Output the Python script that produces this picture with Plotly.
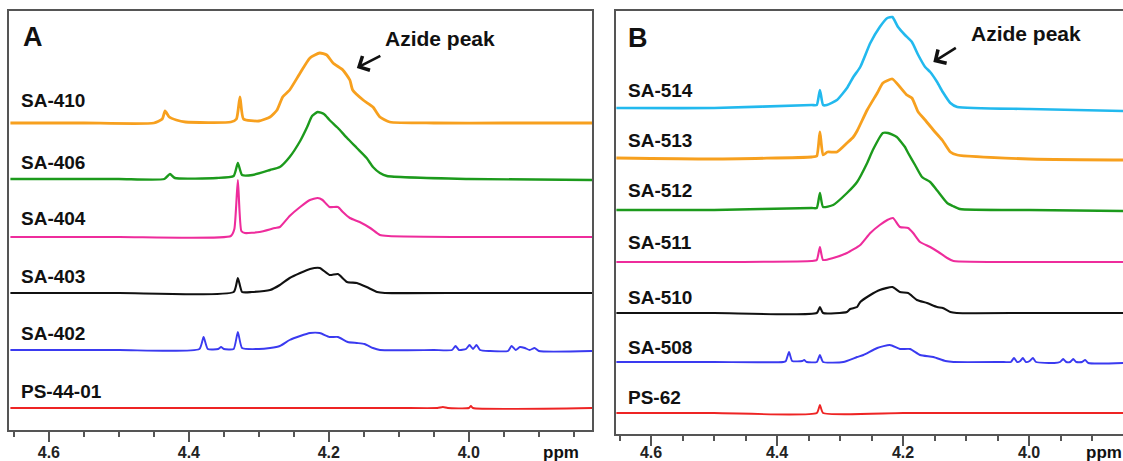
import plotly.graph_objects as go

# ---------------------------------------------------------------------------
# Spectra: chemical shift (ppm) and intensity above each trace's own baseline
# ---------------------------------------------------------------------------

# Panel A
SA410_PPM = [4.655, 4.55, 4.45, 4.438, 4.434, 4.428, 4.418, 4.405, 4.34, 4.332, 4.327, 4.322, 4.30, 4.284,
             4.274, 4.266, 4.256, 4.241, 4.227, 4.213, 4.203, 4.194, 4.180, 4.170, 4.166, 4.151, 4.137,
             4.127, 4.113, 4.05, 3.95, 3.824]
SA410_INT = [0, 0, 0, 4, 12, 6, 3, 1, 1, 4, 26, 4, 2, 6,
             13, 26, 33, 50, 65, 70, 68, 60, 53, 43, 33, 23, 16,
             6, 1, 0, 0, 0]

SA406_PPM = [4.655, 4.5, 4.435, 4.427, 4.42, 4.36, 4.336, 4.33, 4.324, 4.309, 4.284, 4.27, 4.256, 4.241,
             4.231, 4.224, 4.216, 4.207, 4.199, 4.187, 4.174, 4.160, 4.146, 4.137, 4.127, 4.117, 4.0, 3.824]
SA406_INT = [0, 0, 0, 5, 1, 1, 3, 16, 4, 4, 9, 12, 22, 38,
             52, 63, 67, 65, 59, 51, 41, 31, 21, 12, 6, 3, 0, -1]

SA404_PPM = [4.655, 4.5, 4.34, 4.335, 4.33, 4.325, 4.32, 4.299, 4.277, 4.27, 4.256, 4.241, 4.227, 4.216,
             4.209, 4.199, 4.187, 4.18, 4.17, 4.156, 4.141, 4.127, 4.115, 4.0, 3.824]
SA404_INT = [0, 0, 1, 8, 57, 6, 4, 5, 9, 10, 21, 30, 37, 39,
             37, 30, 30, 25, 19, 15, 9, 2, 1, 0, 0]

SA403_PPM = [4.655, 4.5, 4.336, 4.33, 4.324, 4.31, 4.284, 4.27, 4.256, 4.241, 4.227, 4.213, 4.199, 4.187,
             4.174, 4.160, 4.146, 4.131, 4.12, 4.0, 3.824]
SA403_INT = [0, 0, 1, 15, 1, 1, 3, 8, 15, 20, 24, 25, 18, 19,
             11, 10, 6, 1, 0, 0, 0]

SA402_PPM = [4.655, 4.5, 4.385, 4.379, 4.373, 4.358, 4.354, 4.35, 4.336, 4.33, 4.324, 4.30, 4.284, 4.27,
             4.256, 4.241, 4.227, 4.213, 4.199, 4.187, 4.173, 4.160, 4.149, 4.137, 4.127, 4.05, 4.024,
             4.019, 4.014, 4.004, 3.999, 3.994, 3.989, 3.984, 3.97, 3.944, 3.939, 3.933, 3.927, 3.92,
             3.913, 3.906, 3.90, 3.824]
SA402_INT = [0, 0, 1, 13, 1, 1, 3, 1, 1, 18, 2, 1, 2, 4,
             10, 14, 17, 17, 13, 13, 8, 7, 6, 2, 0, 0, 0,
             4, 0, 1, 5, 1, 5, 0, -1, -1, 4, 0, 3, 2,
             0, 2, -1, -1]

PS4401_PPM = [4.655, 4.3, 4.10, 4.045, 4.037, 4.03, 4.0, 3.997, 3.994, 3.824]
PS4401_INT = [0, 0, 0, 0, 1, 0, 0, 2, 0, 0]

# Panel B
SA514_PPM = [4.655, 4.5, 4.345, 4.337, 4.332, 4.327, 4.321, 4.305, 4.289, 4.279, 4.268, 4.252, 4.237,
             4.225, 4.217, 4.208, 4.197, 4.186, 4.176, 4.165, 4.157, 4.146, 4.137, 4.125, 4.114, 4.0, 3.851]
SA514_INT = [0, 0, 3, 3, 18, 3, 3, 8, 20, 31, 41, 65, 81,
             90, 91, 81, 73, 66, 53, 41, 36, 26, 16, 5, 1, -1, -3]

SA513_PPM = [4.655, 4.5, 4.345, 4.337, 4.332, 4.327, 4.32, 4.305, 4.289, 4.279, 4.273, 4.257, 4.241,
             4.232, 4.217, 4.205, 4.194, 4.186, 4.176, 4.165, 4.152, 4.138, 4.125, 4.114, 4.0, 3.851]
SA513_INT = [1, 0, 2, 3, 27, 4, 7, 7, 16, 22, 28, 49, 66,
             76, 80, 72, 64, 61, 47, 39, 29, 19, 7, 4, 0, -1]

SA512_PPM = [4.655, 4.5, 4.345, 4.337, 4.332, 4.327, 4.311, 4.289, 4.273, 4.257, 4.248, 4.232, 4.224,
             4.210, 4.197, 4.192, 4.181, 4.170, 4.157, 4.144, 4.130, 4.121, 4.11, 4.0, 3.851]
SA512_INT = [0, 0, 2, 2, 17, 3, 5, 17, 28, 47, 60, 77, 77,
             73, 63, 57, 45, 33, 28, 18, 7, 4, 1, 0, -1]

SA511_PPM = [4.655, 4.5, 4.345, 4.337, 4.332, 4.327, 4.311, 4.289, 4.268, 4.252, 4.237, 4.225, 4.216,
             4.205, 4.192, 4.184, 4.173, 4.157, 4.144, 4.130, 4.12, 4.0, 3.851]
SA511_INT = [0, 0, 1, 2, 15, 2, 4, 9, 17, 29, 37, 42, 44,
             35, 34, 29, 20, 15, 10, 4, 1, 0, 0]

SA510_PPM = [4.655, 4.5, 4.337, 4.332, 4.327, 4.289, 4.284, 4.273, 4.268, 4.252, 4.237, 4.217, 4.205,
             4.192, 4.178, 4.162, 4.146, 4.137, 4.125, 4.115, 4.0, 3.851]
SA510_INT = [0, 0, 0, 6, 0, 1, 4, 6, 11, 18, 23, 26, 21,
             20, 13, 10, 6, 5, 1, 0, 0, 0]

SA508_PPM = [4.655, 4.5, 4.39, 4.386, 4.381, 4.376, 4.36, 4.357, 4.353, 4.337, 4.332, 4.327, 4.295,
             4.273, 4.263, 4.241, 4.221, 4.205, 4.189, 4.173, 4.152, 4.133, 4.12, 4.04, 4.029, 4.024,
             4.019, 4.014, 4.010, 4.005, 3.999, 3.994, 3.989, 3.96, 3.951, 3.946, 3.941, 3.935, 3.930,
             3.925, 3.916, 3.911, 3.906, 3.851]
SA508_INT = [0, 0, 0, 1, 10, 1, 1, 2, 0, 0, 7, 0, 0,
             5, 7, 14, 17, 13, 13, 7, 5, 1, 0, 0, 0, 4,
             0, 1, 4, 0, 1, 4, 0, -1, 0, 3, 0, 0, 3,
             0, 0, 2, -1, -1]

PS62_PPM = [4.655, 4.5, 4.337, 4.332, 4.327, 4.2, 4.0, 3.851]
PS62_INT = [0, 0, 0, 8, 0, 0, 0, 0]

# ---------------------------------------------------------------------------
# Styling
# ---------------------------------------------------------------------------
ORANGE = "#F7A01E"
GREEN = "#1C9A1C"
MAGENTA = "#EE2C9C"
BLACK = "#111111"
BLUE = "#3A3AF0"
RED = "#EE2424"
CYAN = "#22B9EE"

FONT = "Liberation Sans, Arial, sans-serif"
FRAME = "#555555"

W, H = 1123, 461
M_TOP, M_BOT = 11, 27
PLOT_H = H - M_TOP - M_BOT

# (name, ppm, intensity, baseline offset, colour, line width)
panel_a = [
    ("SA-410", SA410_PPM, SA410_INT, 307, ORANGE, 2.8),
    ("SA-406", SA406_PPM, SA406_INT, 251, GREEN, 2.4),
    ("SA-404", SA404_PPM, SA404_INT, 193, MAGENTA, 2.1),
    ("SA-403", SA403_PPM, SA403_INT, 137, BLACK, 2.1),
    ("SA-402", SA402_PPM, SA402_INT, 80, BLUE, 1.9),
    ("PS-44-01", PS4401_PPM, PS4401_INT, 22, RED, 1.9),
]
label_y_a = [330, 268, 212, 154, 97, 39]

panel_b = [
    ("SA-514", SA514_PPM, SA514_INT, 326, CYAN, 2.6),
    ("SA-513", SA513_PPM, SA513_INT, 275, ORANGE, 2.8),
    ("SA-512", SA512_PPM, SA512_INT, 224, GREEN, 2.4),
    ("SA-511", SA511_PPM, SA511_INT, 172, MAGENTA, 2.1),
    ("SA-510", SA510_PPM, SA510_INT, 121, BLACK, 2.1),
    ("SA-508", SA508_PPM, SA508_INT, 72, BLUE, 1.9),
    ("PS-62", PS62_PPM, PS62_INT, 21, RED, 1.9),
]
label_y_b = [344, 294, 244, 192, 137, 87, 37]

fig = go.Figure()

for name, ppm, inten, off, col, lw in panel_a:
    fig.add_trace(go.Scatter(x=ppm, y=[v + off for v in inten], mode="lines", name=name,
                             line=dict(color=col, width=lw, shape="spline", smoothing=0.5),
                             xaxis="x", yaxis="y", showlegend=False, hoverinfo="skip"))

for name, ppm, inten, off, col, lw in panel_b:
    fig.add_trace(go.Scatter(x=ppm, y=[v + off for v in inten], mode="lines", name=name,
                             line=dict(color=col, width=lw, shape="spline", smoothing=0.5),
                             xaxis="x2", yaxis="y2", showlegend=False, hoverinfo="skip"))

annotations = []
for (name, *_), ly in zip(panel_a, label_y_a):
    annotations.append(dict(text=name, x=19 / W, xref="paper", xanchor="left", y=ly, yref="y",
                            yanchor="middle", showarrow=False,
                            font=dict(family=FONT, size=19, color="#111", weight="bold")))
for (name, *_), ly in zip(panel_b, label_y_b):
    annotations.append(dict(text=name, x=626 / W, xref="paper", xanchor="left", y=ly, yref="y2",
                            yanchor="middle", showarrow=False,
                            font=dict(family=FONT, size=19, color="#111", weight="bold")))

# Panel letters
annotations += [
    dict(text="A", x=21 / W, xref="paper", xanchor="left", y=393, yref="y", yanchor="middle",
         showarrow=False, font=dict(family=FONT, size=27, color="#111", weight="bold")),
    dict(text="B", x=626 / W, xref="paper", xanchor="left", y=396, yref="y2", yanchor="middle",
         showarrow=False, font=dict(family=FONT, size=27, color="#111", weight="bold")),
]

# Azide peak callouts
annotations += [
    dict(text="Azide peak", x=4.122, xref="x", xanchor="left", y=392, yref="y", yanchor="middle",
         showarrow=False, font=dict(family=FONT, size=21, color="#111", weight="bold")),
    dict(text="", x=4.160, xref="x", y=362, yref="y", showarrow=True, ax=25, ay=-13,
         arrowhead=4, arrowsize=1.2, arrowwidth=2.6, arrowcolor="#111"),
    dict(text="Azide peak", x=4.096, xref="x2", xanchor="left", y=401, yref="y2", yanchor="middle",
         showarrow=False, font=dict(family=FONT, size=21, color="#111", weight="bold")),
    dict(text="", x=4.152, xref="x2", y=372, yref="y2", showarrow=True, ax=24, ay=-15,
         arrowhead=4, arrowsize=1.2, arrowwidth=2.6, arrowcolor="#111"),
]

# Axis unit labels below the frames
annotations += [
    dict(text="ppm", x=541 / W, xref="paper", xanchor="left", y=-18 / PLOT_H, yref="paper",
         yanchor="middle", showarrow=False,
         font=dict(family=FONT, size=17, color="#111", weight="bold")),
    dict(text="ppm", x=1084 / W, xref="paper", xanchor="left", y=-18 / PLOT_H, yref="paper",
         yanchor="middle", showarrow=False,
         font=dict(family=FONT, size=17, color="#111", weight="bold")),
]

xcommon = dict(
    showline=True, mirror=True, linecolor=FRAME, linewidth=1.5,
    ticks="outside", ticklen=10, tickwidth=1.5, tickcolor=FRAME,
    tick0=4.0, dtick=0.2, tickformat=".1f",
    tickfont=dict(family=FONT, size=16, color="#222", weight="bold"),
    minor=dict(ticks="outside", ticklen=5, tickwidth=1.5, tickcolor=FRAME, tick0=4.0, dtick=0.05,
               showgrid=False),
    showgrid=False, zeroline=False, fixedrange=True, automargin=False,
)
ycommon = dict(showticklabels=False, ticks="", showgrid=False, zeroline=False, fixedrange=True,
               showline=True, linecolor=FRAME, linewidth=1.5, automargin=False)

fig.update_layout(
    width=W, height=H,
    margin=dict(l=0, r=0, t=M_TOP, b=M_BOT, autoexpand=False),
    paper_bgcolor="white", plot_bgcolor="white",
    xaxis=dict(domain=[9 / W, 592 / W], range=[4.657, 3.824], anchor="y",
               ticklabelstandoff=-3, **xcommon),
    yaxis=dict(domain=[4 / PLOT_H, 1], range=[0, 419], anchor="x", mirror=True, **ycommon),
    xaxis2=dict(domain=[616 / W, 1.0], range=[4.6556, 3.851], anchor="y2",
                ticklabelstandoff=-7, **xcommon),
    yaxis2=dict(domain=[0, 1], range=[0, 423], anchor="x2", mirror=False, **ycommon),
    annotations=annotations,
)

fig.write_html("out.html")
